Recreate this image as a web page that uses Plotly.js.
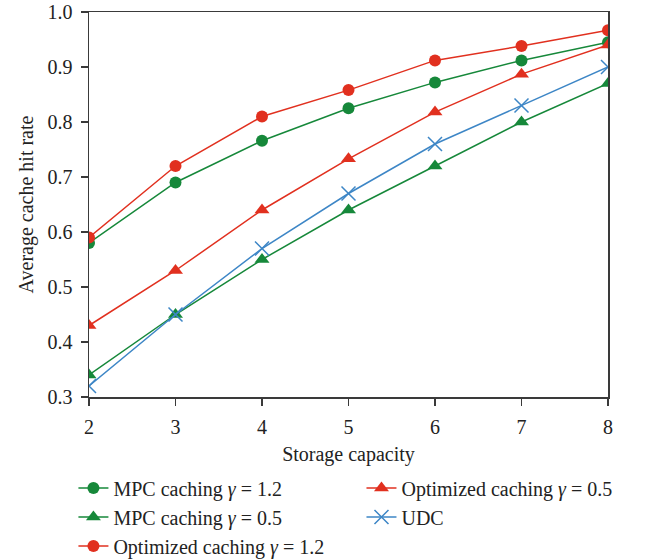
<!DOCTYPE html>
<html>
<head>
<meta charset="utf-8">
<script src="https://cdn.plot.ly/plotly-3.0.1.min.js"></script>
<style>html,body{margin:0;padding:0;background:#fff;}#chart{width:647px;height:559px;}</style>
</head>
<body>
<div id="chart"></div>
<script>
const capacity = [2, 3, 4, 5, 6, 7, 8];
const mpc12 = [0.58, 0.69, 0.766, 0.825, 0.872, 0.912, 0.945];
const mpc05 = [0.34, 0.45, 0.55, 0.64, 0.72, 0.80, 0.87];
const opt12 = [0.59, 0.72, 0.81, 0.858, 0.912, 0.938, 0.967];
const opt05 = [0.43, 0.53, 0.64, 0.733, 0.818, 0.887, 0.94];
const udc = [0.32, 0.45, 0.57, 0.67, 0.76, 0.83, 0.90];
const yTicks = [0.3, 0.4, 0.5, 0.6, 0.7, 0.8, 0.9, 1.0];
const xTicks = [2, 3, 4, 5, 6, 7, 8];

const GREEN = '#16883a', RED = '#e1301f', BLUE = '#3d86c6';
const FONT = 'Liberation Serif, Times New Roman, serif';

function tr(y, name, color, symbol, size, legend, group) {
  return {
    x: capacity, y: y, name: name, type: 'scatter', mode: 'lines+markers',
    line: {color: color, width: 1.5},
    marker: {color: color, symbol: symbol, size: size, line: {color: color, width: symbol === 'x-thin' ? 1.5 : 0}},
    legend: legend, legendgroup: group
  };
}

const data = [
  tr(mpc12, 'MPC caching <i>γ</i> = 1.2', GREEN, 'circle', 12, 'legend', 'a'),
  tr(mpc05, 'MPC caching <i>γ</i> = 0.5', GREEN, 'triangle-up', 13, 'legend', 'b'),
  tr(opt12, 'Optimized caching <i>γ</i> = 1.2', RED, 'circle', 12, 'legend', 'c'),
  tr(opt05, 'Optimized caching <i>γ</i> = 0.5', RED, 'triangle-up', 13, 'legend2', 'd'),
  tr(udc, 'UDC', BLUE, 'x-thin', 14, 'legend2', 'e')
];

const axisCommon = {
  showline: true, linecolor: '#3a3a3a', linewidth: 1.5, mirror: true,
  ticks: 'outside', ticklen: 7, tickwidth: 1.5, tickcolor: '#3a3a3a',
  showgrid: false, zeroline: false, ticklabelstandoff: 4,
  tickfont: {family: FONT, size: 20, color: '#222'}
};

const legendCommon = {
  yref: 'container', yanchor: 'top', xanchor: 'left', orientation: 'v',
  font: {family: FONT, size: 20, color: '#222'}, tracegroupgap: 0,
  bgcolor: 'rgba(0,0,0,0)'
};

const layout = {
  width: 647, height: 559,
  margin: {l: 89, r: 39, t: 12, b: 162},
  paper_bgcolor: '#fff', plot_bgcolor: '#fff',
  font: {family: FONT, color: '#222'},
  showlegend: true,
  xaxis: Object.assign({}, axisCommon, {
    range: [2, 8], tickvals: xTicks,
    title: {text: 'Storage capacity', font: {family: FONT, size: 20, color: '#222'}, standoff: 10}
  }),
  yaxis: Object.assign({}, axisCommon, {
    range: [0.3, 1.0], tickvals: yTicks, tickformat: '.1f',
    title: {text: 'Average cache hit rate', font: {family: FONT, size: 20, color: '#222'}, standoff: 8}
  }),
  legend: Object.assign({}, legendCommon, {x: -0.03, y: 0.162}),
  legend2: Object.assign({}, legendCommon, {x: 0.525, y: 0.162})
};

Plotly.newPlot('chart', data, layout, {displayModeBar: false, staticPlot: true});
</script>
</body>
</html>
